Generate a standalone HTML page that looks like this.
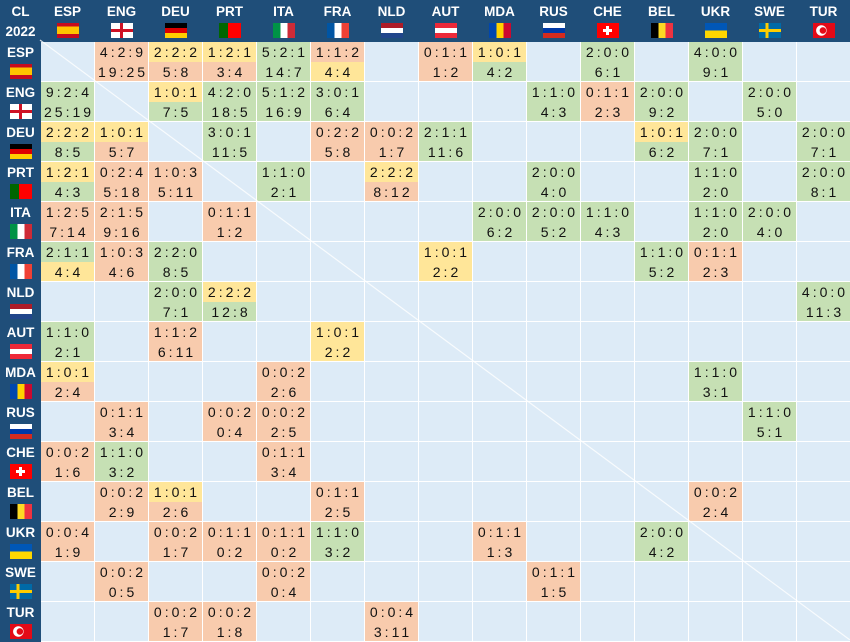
<!DOCTYPE html><html><head><meta charset="utf-8"><style>
body{margin:0;background:#fff}
table{border-collapse:collapse;table-layout:fixed;width:850px;font-family:"Liberation Sans",sans-serif;position:absolute;left:0;top:0}
col.h{width:40px}col.c{width:54px}
tr{height:40px}
th{background:#1f4e79;color:#fff;font-weight:bold;font-size:13.5px;padding:0;vertical-align:top;border:1px solid #1f4e79;text-align:center}
th span{display:block;height:20px;line-height:22px}
th i{display:block;width:22px;height:15px;margin:2px auto 0}
td{background:#ddebf7;border:1px solid #fff;padding:0;vertical-align:top;text-align:center;font-size:14px;color:#111;letter-spacing:3px}
td b,td i{display:block;height:19.5px;line-height:20px;font-weight:normal;font-style:normal;padding-left:3px}
.g{background:#c6e0b4}.y{background:#ffe699}.r{background:#f8cbad}
.ESP{background:linear-gradient(#c60b1e 25%,#ffc400 25% 75%,#c60b1e 75%)}
.ENG{background:linear-gradient(#ce1124,#ce1124) center/100% 3px no-repeat,linear-gradient(#ce1124,#ce1124) center/3px 100% no-repeat,#fff}
.DEU{background:linear-gradient(#000 33%,#d00 33% 66%,#ffce00 66%)}
.PRT{background:linear-gradient(90deg,#060 40%,#f00 40%)}
.ITA{background:linear-gradient(90deg,#009246 33%,#fff 33% 66%,#ce2b37 66%)}
.FRA{background:linear-gradient(90deg,#0055a4 33%,#fff 33% 66%,#ef4135 66%)}
.NLD{background:linear-gradient(#ae1c28 33%,#fff 33% 66%,#21468b 66%)}
.AUT{background:linear-gradient(#ed2939 33%,#fff 33% 66%,#ed2939 66%)}
.MDA{background:linear-gradient(90deg,#0046ae 33%,#ffd200 33% 66%,#cc092f 66%)}
.RUS{background:linear-gradient(#fff 33%,#0039a6 33% 66%,#d52b1e 66%)}
.CHE{background:linear-gradient(#fff,#fff) center/9px 3px no-repeat,linear-gradient(#fff,#fff) center/3px 9px no-repeat,#f00}
.BEL{background:linear-gradient(90deg,#000 33%,#fdda24 33% 66%,#ef3340 66%)}
.UKR{background:linear-gradient(#0057b7 50%,#ffd700 50%)}
.SWE{background:linear-gradient(#fecc00,#fecc00) center/100% 3px no-repeat,linear-gradient(90deg,transparent 30%,#fecc00 30% 44%,transparent 44%),#006aa7}
.TUR{background:radial-gradient(circle at 45% 50%,#e30a17 3px,transparent 3.5px),radial-gradient(circle at 38% 50%,#fff 5px,transparent 5.5px),#e30a17}
svg{position:absolute;left:0;top:0}
</style></head><body>
<table>
<col class="h"><col class="c"><col class="c"><col class="c"><col class="c"><col class="c"><col class="c"><col class="c"><col class="c"><col class="c"><col class="c"><col class="c"><col class="c"><col class="c"><col class="c"><col class="c">
<tr><th><span>CL</span><span>2022</span></th><th><span>ESP</span><i class="ESP"></i></th><th><span>ENG</span><i class="ENG"></i></th><th><span>DEU</span><i class="DEU"></i></th><th><span>PRT</span><i class="PRT"></i></th><th><span>ITA</span><i class="ITA"></i></th><th><span>FRA</span><i class="FRA"></i></th><th><span>NLD</span><i class="NLD"></i></th><th><span>AUT</span><i class="AUT"></i></th><th><span>MDA</span><i class="MDA"></i></th><th><span>RUS</span><i class="RUS"></i></th><th><span>CHE</span><i class="CHE"></i></th><th><span>BEL</span><i class="BEL"></i></th><th><span>UKR</span><i class="UKR"></i></th><th><span>SWE</span><i class="SWE"></i></th><th><span>TUR</span><i class="TUR"></i></th></tr>
<tr><th><span>ESP</span><i class="ESP"></i></th><td></td><td><b class="r">4:2:9</b><i class="r">19:25</i></td><td><b class="y">2:2:2</b><i class="r">5:8</i></td><td><b class="y">1:2:1</b><i class="r">3:4</i></td><td><b class="g">5:2:1</b><i class="g">14:7</i></td><td><b class="r">1:1:2</b><i class="y">4:4</i></td><td></td><td><b class="r">0:1:1</b><i class="r">1:2</i></td><td><b class="y">1:0:1</b><i class="g">4:2</i></td><td></td><td><b class="g">2:0:0</b><i class="g">6:1</i></td><td></td><td><b class="g">4:0:0</b><i class="g">9:1</i></td><td></td><td></td></tr>
<tr><th><span>ENG</span><i class="ENG"></i></th><td><b class="g">9:2:4</b><i class="g">25:19</i></td><td></td><td><b class="y">1:0:1</b><i class="g">7:5</i></td><td><b class="g">4:2:0</b><i class="g">18:5</i></td><td><b class="g">5:1:2</b><i class="g">16:9</i></td><td><b class="g">3:0:1</b><i class="g">6:4</i></td><td></td><td></td><td></td><td><b class="g">1:1:0</b><i class="g">4:3</i></td><td><b class="r">0:1:1</b><i class="r">2:3</i></td><td><b class="g">2:0:0</b><i class="g">9:2</i></td><td></td><td><b class="g">2:0:0</b><i class="g">5:0</i></td><td></td></tr>
<tr><th><span>DEU</span><i class="DEU"></i></th><td><b class="y">2:2:2</b><i class="g">8:5</i></td><td><b class="y">1:0:1</b><i class="r">5:7</i></td><td></td><td><b class="g">3:0:1</b><i class="g">11:5</i></td><td></td><td><b class="r">0:2:2</b><i class="r">5:8</i></td><td><b class="r">0:0:2</b><i class="r">1:7</i></td><td><b class="g">2:1:1</b><i class="g">11:6</i></td><td></td><td></td><td></td><td><b class="y">1:0:1</b><i class="g">6:2</i></td><td><b class="g">2:0:0</b><i class="g">7:1</i></td><td></td><td><b class="g">2:0:0</b><i class="g">7:1</i></td></tr>
<tr><th><span>PRT</span><i class="PRT"></i></th><td><b class="y">1:2:1</b><i class="g">4:3</i></td><td><b class="r">0:2:4</b><i class="r">5:18</i></td><td><b class="r">1:0:3</b><i class="r">5:11</i></td><td></td><td><b class="g">1:1:0</b><i class="g">2:1</i></td><td></td><td><b class="y">2:2:2</b><i class="r">8:12</i></td><td></td><td></td><td><b class="g">2:0:0</b><i class="g">4:0</i></td><td></td><td></td><td><b class="g">1:1:0</b><i class="g">2:0</i></td><td></td><td><b class="g">2:0:0</b><i class="g">8:1</i></td></tr>
<tr><th><span>ITA</span><i class="ITA"></i></th><td><b class="r">1:2:5</b><i class="r">7:14</i></td><td><b class="r">2:1:5</b><i class="r">9:16</i></td><td></td><td><b class="r">0:1:1</b><i class="r">1:2</i></td><td></td><td></td><td></td><td></td><td><b class="g">2:0:0</b><i class="g">6:2</i></td><td><b class="g">2:0:0</b><i class="g">5:2</i></td><td><b class="g">1:1:0</b><i class="g">4:3</i></td><td></td><td><b class="g">1:1:0</b><i class="g">2:0</i></td><td><b class="g">2:0:0</b><i class="g">4:0</i></td><td></td></tr>
<tr><th><span>FRA</span><i class="FRA"></i></th><td><b class="g">2:1:1</b><i class="y">4:4</i></td><td><b class="r">1:0:3</b><i class="r">4:6</i></td><td><b class="g">2:2:0</b><i class="g">8:5</i></td><td></td><td></td><td></td><td></td><td><b class="y">1:0:1</b><i class="y">2:2</i></td><td></td><td></td><td></td><td><b class="g">1:1:0</b><i class="g">5:2</i></td><td><b class="r">0:1:1</b><i class="r">2:3</i></td><td></td><td></td></tr>
<tr><th><span>NLD</span><i class="NLD"></i></th><td></td><td></td><td><b class="g">2:0:0</b><i class="g">7:1</i></td><td><b class="y">2:2:2</b><i class="g">12:8</i></td><td></td><td></td><td></td><td></td><td></td><td></td><td></td><td></td><td></td><td></td><td><b class="g">4:0:0</b><i class="g">11:3</i></td></tr>
<tr><th><span>AUT</span><i class="AUT"></i></th><td><b class="g">1:1:0</b><i class="g">2:1</i></td><td></td><td><b class="r">1:1:2</b><i class="r">6:11</i></td><td></td><td></td><td><b class="y">1:0:1</b><i class="y">2:2</i></td><td></td><td></td><td></td><td></td><td></td><td></td><td></td><td></td><td></td></tr>
<tr><th><span>MDA</span><i class="MDA"></i></th><td><b class="y">1:0:1</b><i class="r">2:4</i></td><td></td><td></td><td></td><td><b class="r">0:0:2</b><i class="r">2:6</i></td><td></td><td></td><td></td><td></td><td></td><td></td><td></td><td><b class="g">1:1:0</b><i class="g">3:1</i></td><td></td><td></td></tr>
<tr><th><span>RUS</span><i class="RUS"></i></th><td></td><td><b class="r">0:1:1</b><i class="r">3:4</i></td><td></td><td><b class="r">0:0:2</b><i class="r">0:4</i></td><td><b class="r">0:0:2</b><i class="r">2:5</i></td><td></td><td></td><td></td><td></td><td></td><td></td><td></td><td></td><td><b class="g">1:1:0</b><i class="g">5:1</i></td><td></td></tr>
<tr><th><span>CHE</span><i class="CHE"></i></th><td><b class="r">0:0:2</b><i class="r">1:6</i></td><td><b class="g">1:1:0</b><i class="g">3:2</i></td><td></td><td></td><td><b class="r">0:1:1</b><i class="r">3:4</i></td><td></td><td></td><td></td><td></td><td></td><td></td><td></td><td></td><td></td><td></td></tr>
<tr><th><span>BEL</span><i class="BEL"></i></th><td></td><td><b class="r">0:0:2</b><i class="r">2:9</i></td><td><b class="y">1:0:1</b><i class="r">2:6</i></td><td></td><td></td><td><b class="r">0:1:1</b><i class="r">2:5</i></td><td></td><td></td><td></td><td></td><td></td><td></td><td><b class="r">0:0:2</b><i class="r">2:4</i></td><td></td><td></td></tr>
<tr><th><span>UKR</span><i class="UKR"></i></th><td><b class="r">0:0:4</b><i class="r">1:9</i></td><td></td><td><b class="r">0:0:2</b><i class="r">1:7</i></td><td><b class="r">0:1:1</b><i class="r">0:2</i></td><td><b class="r">0:1:1</b><i class="r">0:2</i></td><td><b class="g">1:1:0</b><i class="g">3:2</i></td><td></td><td></td><td><b class="r">0:1:1</b><i class="r">1:3</i></td><td></td><td></td><td><b class="g">2:0:0</b><i class="g">4:2</i></td><td></td><td></td><td></td></tr>
<tr><th><span>SWE</span><i class="SWE"></i></th><td></td><td><b class="r">0:0:2</b><i class="r">0:5</i></td><td></td><td></td><td><b class="r">0:0:2</b><i class="r">0:4</i></td><td></td><td></td><td></td><td></td><td><b class="r">0:1:1</b><i class="r">1:5</i></td><td></td><td></td><td></td><td></td><td></td></tr>
<tr><th><span>TUR</span><i class="TUR"></i></th><td></td><td></td><td><b class="r">0:0:2</b><i class="r">1:7</i></td><td><b class="r">0:0:2</b><i class="r">1:8</i></td><td></td><td></td><td><b class="r">0:0:4</b><i class="r">3:11</i></td><td></td><td></td><td></td><td></td><td></td><td></td><td></td><td></td></tr>
</table>
<svg width="850" height="640"><line x1="40" y1="40" x2="850" y2="640" stroke="#fff" stroke-width="1.2" opacity="0.8"/></svg>
</body></html>
